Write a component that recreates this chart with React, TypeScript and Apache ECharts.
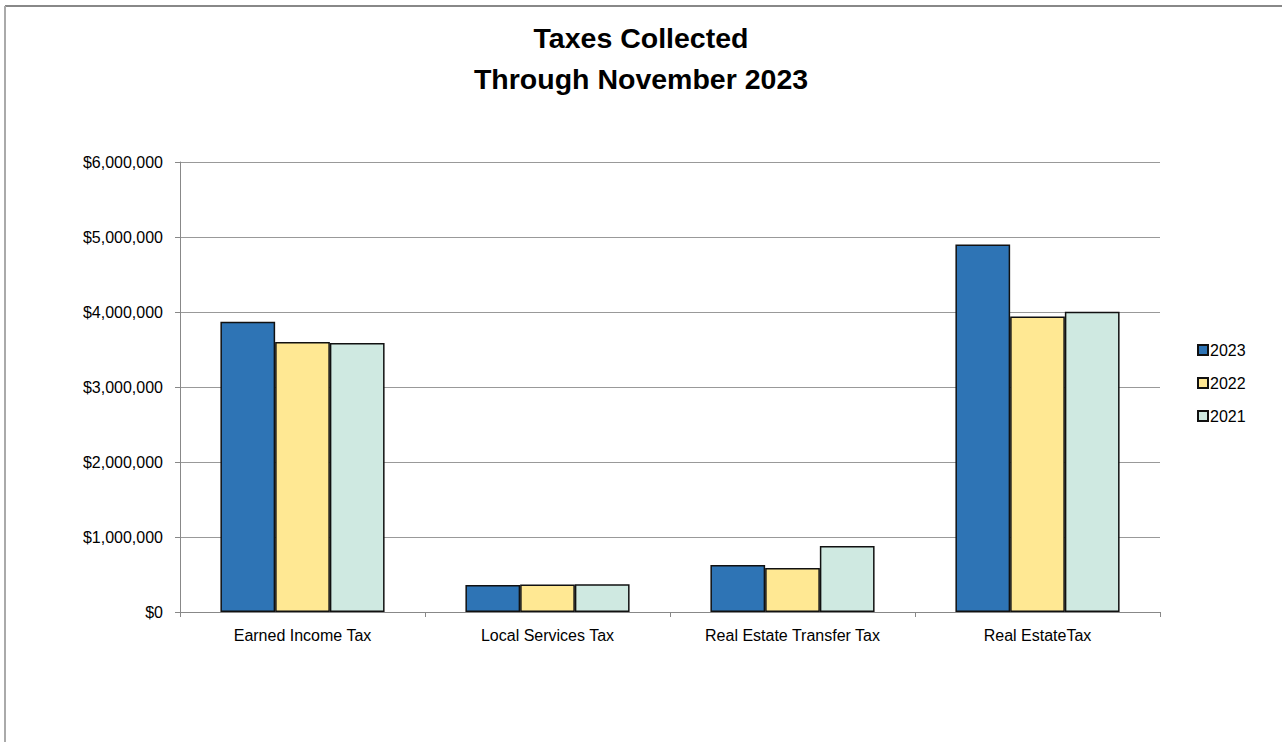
import React, { useEffect, useRef } from "react";
import * as echarts from "echarts";

const categories = ["Earned Income Tax", "Local Services Tax", "Real Estate Transfer Tax", "Real EstateTax"];
const seriesNames = ["2023", "2022", "2021"];
const values2023 = [3870000, 360000, 627000, 4900000];
const values2022 = [3600000, 368000, 587000, 3940000];
const values2021 = [3587000, 370000, 880000, 4005000];
const colors = ["#2E74B5", "#FFE893", "#CFE9E1"];

export default function App() {
  const ref = useRef<HTMLDivElement>(null);
  useEffect(() => {
    const chart = echarts.init(ref.current!, null, { renderer: "svg" });
    const data = [values2023, values2022, values2021];
    chart.setOption({
      animation: false,
      backgroundColor: "#ffffff",
      textStyle: { fontFamily: "Liberation Sans, Arial, sans-serif" },
      title: {
        text: "Taxes Collected\nThrough November 2023",
        left: "center",
        top: 12,
        textStyle: { fontSize: 28.5, fontWeight: "bold", color: "#000", lineHeight: 41, fontFamily: "Liberation Sans, Arial, sans-serif" },
      },
      legend: {
        orient: "vertical",
        left: 1192,
        top: 337,
        itemWidth: 10,
        itemHeight: 10,
        itemGap: 17,
        icon: "rect",
        textStyle: { fontSize: 16, color: "#000", padding: [0, 0, 0, -3] },
        data: seriesNames,
      },
      grid: { left: 180, right: 122, top: 162, bottom: 130, containLabel: false },
      xAxis: {
        type: "category",
        data: categories,
        axisLine: { lineStyle: { color: "#888888", width: 1 } },
        axisTick: { show: true, length: 5, lineStyle: { color: "#888888" }, alignWithLabel: false },
        axisLabel: { color: "#000", fontSize: 16, margin: 15 },
      },
      yAxis: {
        type: "value",
        min: 0,
        max: 6000000,
        interval: 1000000,
        axisLine: { show: true, lineStyle: { color: "#888888" } },
        axisTick: { show: true, length: 5, lineStyle: { color: "#888888" } },
        splitLine: { lineStyle: { color: "#999999", width: 1 } },
        axisLabel: {
          color: "#000",
          fontSize: 16,
          margin: 17,
          formatter: (v: number) => "$" + v.toLocaleString("en-US"),
        },
      },
      series: seriesNames.map((name, i) => ({
        name,
        type: "bar",
        data: data[i],
        barGap: "0%",
        barCategoryGap: "33%",
        itemStyle: { color: colors[i], borderColor: "#111", borderWidth: 1.5 },
      })),
      graphic: [
        { type: "line", shape: { x1: 5, y1: 6, x2: 1282, y2: 6 }, style: { stroke: "#888", lineWidth: 2 } },
        { type: "line", shape: { x1: 5, y1: 6, x2: 5, y2: 742 }, style: { stroke: "#aaa", lineWidth: 2 } },
      ],
    });
    return () => chart.dispose();
  }, []);
  return <div ref={ref} style={{ position: "fixed", left: 0, top: 0, width: 1282, height: 742 }} />;
}
